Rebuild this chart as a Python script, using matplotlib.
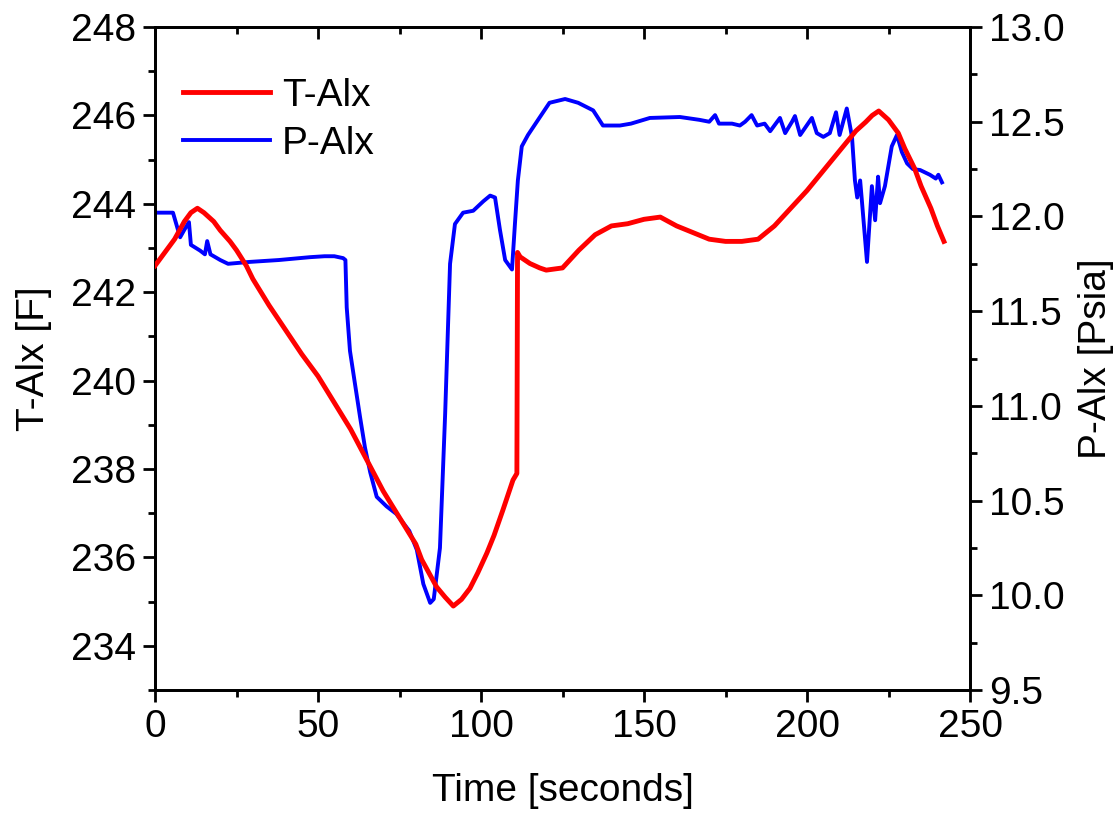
import matplotlib
matplotlib.use("Agg")
import matplotlib.pyplot as plt
from matplotlib.ticker import MultipleLocator, FormatStrFormatter
import matplotlib.lines as mlines

plt.rcParams['font.family'] = ['Liberation Sans', 'DejaVu Sans']

# T-Alx (left axis)
t_time = [0, 3, 6, 9, 11, 13, 15, 18, 20, 23, 25, 28, 30, 35, 40, 45, 50, 55, 60, 65, 70, 75, 80,
          81.8, 86.4, 89, 91.5, 94, 96.6, 99, 101.8, 104, 106.7, 109.8, 111, 111.2, 112, 115, 118,
          120, 125, 130, 135, 140, 145, 150, 155, 160, 165, 170, 175, 180, 185, 190, 195, 200, 205,
          210, 215, 218, 220, 222, 225, 228, 230, 233, 235, 238, 240, 242]
t_alx = [242.6, 242.9, 243.2, 243.6, 243.8, 243.9, 243.8, 243.6, 243.4, 243.15, 242.95, 242.6,
         242.3, 241.7, 241.15, 240.6, 240.1, 239.5, 238.9, 238.2, 237.5, 236.9, 236.3, 235.95,
         235.33, 235.1, 234.9, 235.05, 235.3, 235.65, 236.1, 236.5, 237.07, 237.75, 237.9, 242.9,
         242.8, 242.65, 242.55, 242.5, 242.55, 242.95, 243.3, 243.5, 243.55, 243.65, 243.7, 243.5,
         243.35, 243.2, 243.15, 243.15, 243.2, 243.5, 243.9, 244.3, 244.75, 245.2, 245.65, 245.85,
         246.0, 246.1, 245.9, 245.6, 245.25, 244.8, 244.4, 243.9, 243.5, 243.15]

# P-Alx (right axis)
p_time = [0, 3, 5.5, 7.7, 9, 10.4, 11, 13.8, 15.3, 16, 17, 20, 22.4, 29, 38, 47.5, 52, 55, 57.7,
          58.4, 58.8, 59.8, 61.3, 62.9, 64.4, 66, 68, 71, 74, 78, 80.3, 82.3, 84.4, 85.5, 87.4, 89,
          90.5, 92, 94.5, 97.6, 100.7, 102.8, 104.3, 105.8, 107.4, 109.5, 110.4, 111.3, 112.5, 114.4,
          117.5, 121, 125.8, 129.8, 134.4, 137.4, 142.6, 146, 151.8, 161, 167, 170, 171.8, 173, 177,
          179.4, 181, 183, 184.7, 187, 188.7, 191.7, 193.3, 195.4, 196.3, 197.9, 201.5, 203, 205,
          207, 208.9, 210, 212.2, 213.8, 214.7, 215.4, 216.3, 216.8, 218.4, 219.9, 220.9, 221.8,
          222.4, 223.9, 226, 227.6, 229.1, 230.7, 232.5, 234.7, 237.7, 239.5, 240.3, 241.4]
p_alx = [12.02, 12.02, 12.02, 11.89, 11.93, 11.97, 11.85, 11.82, 11.8, 11.87, 11.8, 11.77, 11.75,
         11.76, 11.77, 11.785, 11.79, 11.79, 11.78, 11.77, 11.52, 11.29, 11.12, 10.94, 10.78, 10.65,
         10.52, 10.47, 10.43, 10.34, 10.24, 10.06, 9.96, 9.98, 10.25, 10.96, 11.75, 11.96, 12.02,
         12.03, 12.08, 12.11, 12.1, 11.93, 11.77, 11.72, 11.96, 12.19, 12.37, 12.43, 12.51, 12.6,
         12.62, 12.6, 12.56, 12.48, 12.48, 12.49, 12.52, 12.525, 12.51, 12.5, 12.535, 12.49, 12.49,
         12.48, 12.5, 12.535, 12.48, 12.49, 12.45, 12.52, 12.44, 12.5, 12.53, 12.43, 12.52, 12.44,
         12.42, 12.44, 12.55, 12.43, 12.57, 12.42, 12.19, 12.1, 12.19, 12.09, 11.76, 12.16, 11.98,
         12.21, 12.07, 12.16, 12.37, 12.43, 12.34, 12.28, 12.25, 12.245, 12.22, 12.2, 12.22, 12.18]

fig = plt.figure(figsize=(11.17, 8.14), dpi=100)
ax = fig.add_axes([0.1388, 0.1523, 0.7296, 0.8145])
ax2 = ax.twinx()

l1, = ax.plot(t_time, t_alx, color='#ff0000', lw=3.5, label='T-Alx', zorder=3)
l2, = ax2.plot(p_time, p_alx, color='#0000ff', lw=2.8, label='P-Alx')

ax.set_xlim(0, 250)
ax.set_ylim(233, 248)
ax2.set_ylim(9.5, 13.0)

ax.xaxis.set_major_locator(MultipleLocator(50))
ax.xaxis.set_minor_locator(MultipleLocator(25))
ax.yaxis.set_major_locator(MultipleLocator(2))
ax.yaxis.set_minor_locator(MultipleLocator(1))
ax2.yaxis.set_major_locator(MultipleLocator(0.5))
ax2.yaxis.set_minor_locator(MultipleLocator(0.25))

fs = 28
ax.set_xlabel('Time [seconds]', fontsize=fs, labelpad=20)
ax.set_ylabel('T-Alx [F]', fontsize=fs, labelpad=14)
ax2.set_ylabel('P-Alx [Psia]', fontsize=fs, labelpad=10)

for a in (ax, ax2):
    for s in a.spines.values():
        s.set_linewidth(2)
ax.tick_params(axis='both', which='major', labelsize=fs, length=8.5, width=2, direction='out', pad=5)
ax.tick_params(axis='both', which='minor', length=5, width=2, direction='out')
ax.tick_params(axis='x', top=True, which='both')
ax2.tick_params(axis='y', which='major', labelsize=fs, length=8.5, width=2, direction='out', pad=5)
ax2.tick_params(axis='y', which='minor', length=5, width=2, direction='out')
ax.yaxis.set_major_formatter(FormatStrFormatter('%d'))
ax2.yaxis.set_major_formatter(FormatStrFormatter('%.1f'))

# top ticks inward
for tk in ax.xaxis.get_major_ticks() + ax.xaxis.get_minor_ticks():
    tk.tick2line.set_marker(mlines.TICKDOWN)

ax.set_zorder(ax2.get_zorder() + 1)
ax.patch.set_visible(False)

ax.legend(handles=[l1, l2], loc='upper left', frameon=False, fontsize=fs,
          handlelength=2.25, handletextpad=0.3, bbox_to_anchor=(-0.009, 0.976),
          borderaxespad=0.5, labelspacing=0.3)

fig.savefig('out.png', dpi=100)
